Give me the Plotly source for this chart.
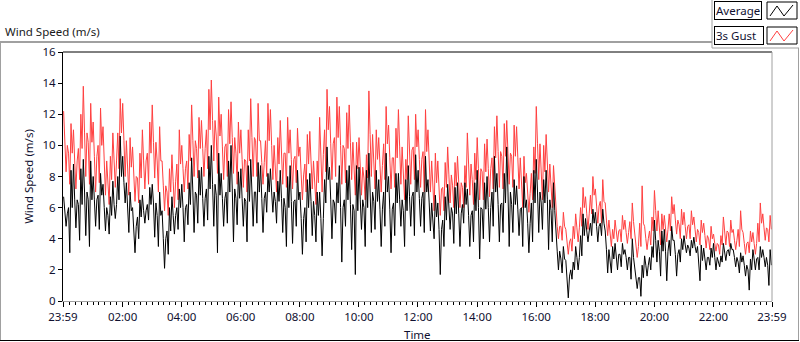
import plotly.graph_objects as go

# ---- data (10-minute blocks starting at 23:59) ----
block_start_min = list(range(0, 1440, 10))  # minutes after 23:59

avg_hi = [6.7, 8.4, 8.8, 8.5, 9.1, 9.0, 8.0, 8.2, 7.5, 6.7, 7.7, 10.6, 9.3, 7.0, 6.0, 6.5,
          6.8, 7.3, 7.5, 7.0, 5.8, 6.0, 6.7, 7.2, 7.5, 7.6, 9.2, 8.4, 8.6, 9.3, 10.0, 9.5,
          8.2, 9.0, 10.0, 8.3, 8.5, 8.7, 9.1, 8.9, 8.7, 8.2, 8.5, 7.7, 8.4, 8.0, 8.7, 8.4,
          7.0, 7.8, 8.2, 7.0, 7.0, 9.9, 8.6, 7.6, 8.7, 8.4, 8.7, 8.7, 8.6, 8.4, 9.5, 8.4,
          7.8, 9.5, 8.0, 8.2, 8.2, 7.8, 8.7, 9.4, 8.4, 9.3, 7.8, 6.8, 6.3, 6.7, 7.5, 7.3,
          7.6, 7.6, 7.2, 7.6, 8.4, 7.6, 8.0, 9.3, 8.2, 8.2, 9.9, 7.8, 7.4, 8.0, 6.5, 8.4,
          9.1, 7.8, 8.4, 7.6, 4.2, 3.5, 2.6, 2.5, 3.5, 5.6, 5.3, 5.9, 5.7, 5.9, 4.5, 3.5,
          3.7, 3.7, 3.3, 4.0, 2.0, 2.3, 2.9, 3.5, 5.2, 4.5, 4.6, 4.8, 3.9, 4.0, 4.2, 3.9,
          4.1, 3.6, 3.4, 3.4, 3.7, 2.9, 3.7, 3.7, 3.3, 3.1, 2.9, 2.7, 3.3, 3.5, 3.3, 3.3]
avg_mid = [5.6, 6.0, 6.5, 6.2, 7.0, 6.5, 6.5, 6.8, 6.0, 5.5, 6.2, 8.0, 7.6, 5.8, 4.8, 5.4,
           5.8, 6.2, 6.3, 5.5, 4.0, 4.5, 5.5, 6.0, 6.0, 6.2, 7.0, 6.8, 6.6, 7.2, 7.5, 6.8,
           6.6, 7.0, 7.2, 6.6, 6.6, 6.4, 7.0, 7.0, 6.6, 7.0, 7.0, 6.4, 6.6, 6.0, 6.4, 6.5,
           5.3, 6.0, 6.4, 5.5, 5.3, 7.8, 6.5, 6.3, 6.0, 6.5, 6.2, 5.8, 6.5, 6.0, 7.0, 6.4,
           5.9, 7.0, 5.9, 6.3, 6.5, 5.8, 6.7, 7.0, 6.6, 7.0, 6.3, 5.4, 4.6, 5.2, 6.0, 5.6,
           5.6, 6.2, 5.5, 5.8, 6.0, 5.9, 6.0, 7.0, 6.2, 6.3, 7.0, 6.2, 5.9, 6.0, 5.0, 6.3,
           7.0, 6.3, 6.5, 5.8, 3.2, 2.7, 1.6, 2.0, 2.8, 4.2, 4.5, 5.0, 4.8, 5.0, 3.3, 2.7,
           3.0, 3.0, 2.8, 2.8, 1.5, 1.5, 2.3, 2.8, 3.9, 3.2, 3.2, 3.9, 3.0, 3.3, 3.6, 3.4,
           3.5, 2.6, 2.8, 2.8, 2.8, 2.5, 3.2, 3.3, 2.8, 2.5, 2.3, 2.0, 2.7, 2.8, 2.8, 2.3]
avg_lo = [4.8, 3.1, 4.7, 3.9, 4.2, 3.5, 4.8, 4.6, 4.5, 4.3, 5.3, 6.5, 6.3, 4.4, 3.1, 4.0,
          5.0, 5.2, 4.1, 3.5, 2.1, 3.0, 4.3, 4.6, 3.8, 4.9, 4.4, 5.0, 4.8, 5.2, 4.8, 3.1,
          4.8, 5.0, 3.8, 4.9, 4.8, 3.8, 4.8, 5.0, 4.4, 5.7, 5.7, 5.0, 4.4, 3.5, 3.7, 4.8,
          3.0, 3.8, 4.2, 3.8, 2.9, 6.3, 4.0, 5.0, 2.5, 4.8, 3.3, 1.7, 4.6, 3.5, 4.4, 4.6,
          3.5, 4.8, 3.1, 4.2, 4.8, 3.5, 4.8, 4.2, 4.8, 4.4, 4.5, 4.0, 1.7, 3.5, 4.6, 3.7,
          3.5, 5.0, 3.5, 3.8, 2.7, 4.0, 3.8, 4.8, 3.8, 4.4, 3.5, 4.4, 4.2, 3.5, 3.1, 3.8,
          4.4, 4.6, 3.3, 3.8, 2.0, 1.8, 0.2, 1.4, 2.0, 2.9, 3.8, 4.2, 3.8, 4.2, 1.8, 1.8,
          2.0, 2.2, 2.0, 1.4, 0.8, 0.3, 1.6, 2.0, 2.5, 1.6, 1.3, 2.9, 1.6, 2.5, 3.1, 2.9,
          3.1, 1.3, 2.0, 2.3, 2.0, 2.2, 2.6, 2.9, 2.2, 1.8, 1.6, 0.7, 2.0, 2.0, 2.2, 1.0]
gust_hi = [12.2, 11.4, 11.0, 12.0, 13.8, 12.7, 11.5, 12.4, 11.2, 9.3, 10.8, 13.0, 12.7, 10.5, 9.9, 9.5,
           11.0, 11.5, 12.6, 11.2, 9.0, 8.5, 9.4, 11.0, 10.0, 10.7, 12.6, 11.8, 11.6, 13.6, 14.2, 13.1,
           12.0, 12.3, 12.8, 11.5, 11.0, 11.0, 13.0, 12.7, 10.3, 12.7, 12.3, 10.5, 11.6, 11.8, 11.0, 11.1,
           9.9, 10.7, 10.9, 9.0, 11.8, 13.6, 12.5, 13.1, 12.5, 12.1, 12.6, 10.2, 10.5, 9.4, 13.5, 11.0,
           10.5, 12.5, 11.3, 11.1, 12.3, 9.1, 11.9, 12.0, 11.0, 12.3, 11.0, 9.5, 9.0, 8.9, 9.9, 8.9,
           9.3, 8.7, 10.8, 9.5, 10.5, 10.1, 10.4, 11.2, 11.9, 11.4, 11.6, 11.3, 11.2, 9.3, 8.2, 9.9,
           12.5, 10.0, 10.7, 8.7, 5.7, 5.7, 4.6, 4.8, 5.6, 7.3, 6.7, 8.0, 7.2, 7.8, 6.3, 4.6,
           5.2, 5.5, 5.2, 6.3, 4.2, 7.4, 4.8, 5.4, 7.1, 5.6, 5.5, 6.7, 6.2, 5.9, 5.7, 5.8,
           5.4, 5.2, 5.0, 4.8, 4.3, 4.2, 5.4, 5.2, 4.6, 5.8, 4.4, 4.5, 4.4, 6.3, 5.6, 5.5]
gust_mid = [10.0, 9.5, 9.0, 9.8, 10.8, 10.2, 9.3, 10.0, 9.0, 7.8, 9.0, 10.8, 10.3, 8.6, 8.0, 7.9,
            9.0, 9.5, 10.2, 9.0, 7.4, 7.0, 7.7, 8.8, 8.5, 9.0, 10.3, 9.8, 9.8, 11.0, 11.6, 10.6,
            9.9, 10.1, 10.5, 9.5, 9.1, 9.0, 10.5, 10.3, 8.9, 10.3, 10.0, 8.8, 9.5, 9.5, 9.1, 9.3,
            8.1, 8.8, 9.0, 7.6, 9.4, 11.0, 10.1, 10.5, 10.0, 9.8, 10.2, 8.5, 8.6, 7.9, 10.7, 9.1,
            8.7, 10.1, 9.2, 9.2, 9.9, 7.8, 9.7, 9.9, 9.1, 9.6, 9.0, 7.6, 7.2, 7.3, 8.1, 7.4,
            7.6, 7.3, 8.8, 7.8, 8.5, 8.3, 8.5, 9.2, 9.6, 9.3, 9.5, 9.3, 9.2, 7.6, 6.9, 8.2,
            10.1, 8.3, 8.8, 7.3, 4.8, 4.8, 3.8, 4.0, 4.7, 6.0, 5.6, 6.8, 6.1, 6.4, 5.2, 4.0,
            4.5, 4.6, 4.4, 5.1, 3.5, 5.0, 4.0, 4.5, 5.8, 4.6, 4.6, 5.6, 5.2, 4.9, 4.8, 4.9,
            4.6, 4.4, 4.2, 4.0, 3.7, 3.6, 4.5, 4.4, 3.9, 4.6, 3.7, 3.8, 3.7, 5.0, 4.7, 4.6]
gust_lo = [8.3, 7.5, 7.2, 7.8, 8.0, 7.5, 7.0, 7.6, 6.8, 6.2, 7.3, 8.5, 8.0, 6.8, 6.4, 6.3,
           7.2, 7.5, 7.9, 7.0, 5.8, 5.5, 6.0, 6.5, 7.0, 7.2, 8.0, 7.9, 8.0, 8.5, 9.0, 8.2,
           7.8, 8.0, 8.2, 7.5, 7.3, 7.0, 8.0, 8.0, 7.5, 8.0, 7.8, 7.0, 7.5, 7.3, 7.2, 7.6,
           6.5, 7.0, 7.2, 6.2, 7.0, 8.3, 7.8, 8.0, 7.5, 7.6, 7.8, 6.8, 6.8, 6.5, 8.0, 7.2,
           7.0, 7.8, 7.2, 7.3, 7.5, 6.5, 7.5, 7.8, 7.3, 7.0, 7.0, 5.8, 5.5, 5.8, 6.3, 6.0,
           6.0, 6.0, 6.8, 6.2, 6.5, 6.5, 6.7, 7.2, 7.3, 7.2, 7.5, 7.3, 7.2, 6.0, 5.7, 6.5,
           7.8, 6.5, 7.0, 6.0, 4.0, 3.9, 3.0, 3.2, 3.8, 4.8, 4.6, 5.6, 5.0, 5.0, 4.2, 3.5,
           3.8, 3.8, 3.7, 4.0, 2.8, 3.5, 3.3, 3.6, 4.5, 3.6, 3.8, 4.5, 4.3, 4.0, 4.0, 4.0,
           3.8, 3.6, 3.4, 3.3, 3.2, 3.0, 3.6, 3.5, 3.3, 3.5, 3.0, 3.1, 3.0, 3.8, 3.9, 3.8]

tick_vals = [0, 121, 241, 361, 481, 601, 721, 841, 961, 1081, 1201, 1321, 1440]
tick_text = ["23:59", "02:00", "04:00", "06:00", "08:00", "10:00", "12:00",
             "14:00", "16:00", "18:00", "20:00", "22:00", "23:59"]
y_ticks = [0, 2, 4, 6, 8, 10, 12, 14, 16]


def trace_points(starts, hi, mid, lo):
    """Each 10-minute block: its peak, typical level and dip (as read), in alternating order."""
    xs, ys = [], []
    for k, (t, h, m, l) in enumerate(zip(starts, hi, mid, lo)):
        order = [h, m, l, m] if k % 2 == 0 else [m, l, h, m]
        xs += [t + 1.25, t + 3.75, t + 6.25, t + 8.75]
        ys += order
    return xs, ys


gx, gy = trace_points(block_start_min, gust_hi, gust_mid, gust_lo)
ax, ay = trace_points(block_start_min, avg_hi, avg_mid, avg_lo)

FONT = "Noto Sans"
FS = 11.5
RED = "#ff4040"
TXT = "#101030"

fig = go.Figure()
fig.add_trace(go.Scatter(x=gx, y=gy, mode="lines", name="3s Gust",
                         line=dict(color=RED, width=1), showlegend=False))
fig.add_trace(go.Scatter(x=ax, y=ay, mode="lines", name="Average",
                         line=dict(color="black", width=1), showlegend=False))

# ---- pixel helpers for decorations (plot area 63..772 x 52..301) ----
L, R, T, B = 63, 772, 52, 301
def px(x):
    return (x - L) / (R - L)
def py(y):
    return (B - y) / (B - T)

shapes = []
def line(x0, y0, x1, y1, color, w=1):
    shapes.append(dict(type="line", xref="paper", yref="paper",
                       x0=px(x0), y0=py(y0), x1=px(x1), y1=py(y1),
                       line=dict(color=color, width=w)))

# outer frame
line(0, 42, 712, 42, "#a0a0a0", 2)
line(0.5, 42, 0.5, 341, "#a0a0a0", 1)
line(798.5, 48, 798.5, 341, "#a0a0a0", 1)
line(0, 340.5, 799, 340.5, "black", 1)
# legend group frame
line(712, 0, 712, 48, "#a0a0a0", 1)
line(712, 48, 799, 48, "#a0a0a0", 1)
# plot border
line(L, T, R, T, "black", 1)
line(R, T, R, B, "#a0a0a0", 1)

# legend glyph boxes
for (y0, y1, col) in [(2, 19, "black"), (27, 44, RED)]:
    shapes.append(dict(type="rect", xref="paper", yref="paper",
                       x0=px(767), x1=px(797), y0=py(y1), y1=py(y0),
                       line=dict(color="black", width=1), fillcolor="white"))
    pts = [(770, y1 - 3), (777, y0 + 4), (784, y1 - 3), (793, y0 + 3)]
    path = "M " + " L ".join(f"{px(a)},{py(b)}" for a, b in pts)
    shapes.append(dict(type="path", xref="paper", yref="paper", path=path,
                       line=dict(color=col, width=1)))

annotations = [
    dict(text="Wind Speed (m/s)", xref="paper", yref="paper", x=px(3), y=py(31),
         xanchor="left", yanchor="middle", showarrow=False,
         font=dict(family=FONT, size=FS, color="#1a1a1a")),
    dict(text="Average", xref="paper", yref="paper", x=px(714), y=py(10.5),
         xanchor="left", yanchor="middle", showarrow=False,
         bordercolor="black", borderwidth=1, borderpad=1, bgcolor="white",
         font=dict(family=FONT, size=FS, color=TXT)),
    dict(text="3s Gust&nbsp;&nbsp;", xref="paper", yref="paper", x=px(714), y=py(35.5),
         xanchor="left", yanchor="middle", showarrow=False,
         bordercolor="black", borderwidth=1, borderpad=1, bgcolor="white",
         font=dict(family=FONT, size=FS, color=TXT)),
    dict(text="Time", xref="paper", yref="paper", x=px(417), y=py(334),
         xanchor="center", yanchor="middle", showarrow=False,
         font=dict(family=FONT, size=FS, color=TXT)),
]

fig.update_layout(
    width=800, height=342,
    margin=dict(l=L, r=800 - R, t=T, b=342 - B),
    paper_bgcolor="white", plot_bgcolor="white",
    font=dict(family=FONT, size=FS, color=TXT),
    shapes=shapes, annotations=annotations,
    xaxis=dict(range=[0, 1440], tickvals=tick_vals, ticktext=tick_text,
               ticks="outside", ticklen=5, tickcolor="black", tickwidth=1,
               minor=dict(tick0=1, dtick=12, ticks="outside", ticklen=3,
                          tickcolor="black", tickwidth=1, showgrid=False),
               showline=True, linecolor="#a0a0a0", linewidth=1,
               showgrid=False, zeroline=False,
               tickfont=dict(size=FS)),
    yaxis=dict(range=[0, 16], tickvals=y_ticks,
               ticks="outside", ticklen=4, tickcolor="black", tickwidth=1,
               showline=True, linecolor="black", linewidth=1,
               showgrid=False, zeroline=False,
               title=dict(text="Wind Speed (m/s)", standoff=6, font=dict(size=FS)),
               tickfont=dict(size=FS)),
)

fig.write_html("out.html", config={"displayModeBar": False},
               post_script="document.body.style.margin='0px';")
